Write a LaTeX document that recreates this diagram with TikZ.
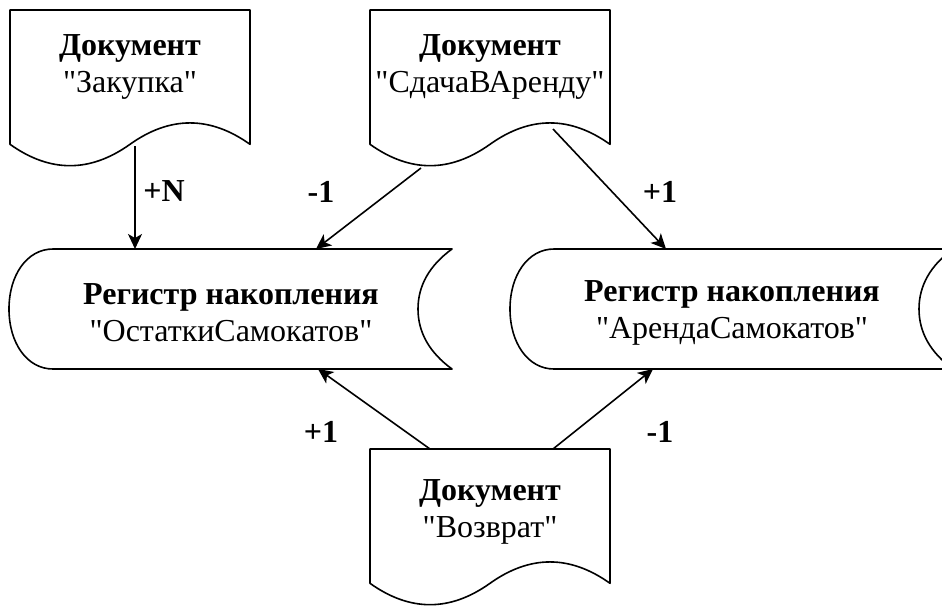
\documentclass[tikz,border=0pt]{standalone}
\usepackage{fontspec}
\setmainfont{Liberation Serif}[Ligatures=TeXOff]
\usetikzlibrary{arrows.meta,calc}
\tikzset{
  shapeline/.style={draw=black, line width=1.6pt, fill=white, line join=round},
  txt/.style={align=center, font=\fontsize{32}{37}\selectfont, inner sep=0pt},
  lbl/.style={font=\fontsize{32}{37}\selectfont\bfseries, inner sep=0pt},
  arr/.style={draw=black, line width=1.6pt, -{Stealth[length=15pt,width=14pt,inset=4pt]}},
}
\newcommand\docoutline[2]{%
  \path[shapeline] (#1,#2) -- ++(240,0) -- ++(0,134.3)
    .. controls ++(-40,-28.5) and ($(#1,#2)+(160,105.8)$) .. ($(#1,#2)+(120,134.3)$)
    .. controls ++(-40,28.5) and ($(#1,#2)+(40,162.8)$) .. ($(#1,#2)+(0,134.3)$) -- cycle;}
\newcommand\regoutline[2]{%
  \path[shapeline] (#1+44,#2) -- ++(399,0)
    .. controls ++(-22,16) and ($(#1,#2)+(409,36)$) .. ($(#1,#2)+(409,60)$)
    .. controls ($(#1,#2)+(409,84)$) and ($(#1,#2)+(421,104)$) .. ($(#1,#2)+(443,120)$)
    -- ($(#1,#2)+(44,120)$)
    .. controls ($(#1,#2)+(18,120)$) and ($(#1,#2)+(0,94)$) .. ($(#1,#2)+(0,60)$)
    .. controls ($(#1,#2)+(0,26)$) and ($(#1,#2)+(18,0)$) .. cycle;}
\begin{document}
\begin{tikzpicture}[x=1pt,y=-1pt]
\useasboundingbox (0,0) rectangle (942,606);
% shapes
\docoutline{10}{10}
\docoutline{370}{10}
\docoutline{370}{449}
\regoutline{9}{249}
\regoutline{510}{249}
% texts
\node[txt] (d1) at (130,67) {\textbf{Документ}\\"Закупка"};
\node[txt] (d2) at (490,67) {\textbf{Документ}\\"СдачаВАренду"};
\node[txt] (d3) at (490,512) {\textbf{Документ}\\"Возврат"};
\node[txt] (r1) at (231,313) {\textbf{Регистр накопления}\\"ОстаткиСамокатов"};
\node[txt] (r2) at (732,313) {\textbf{Регистр накопления}\\"АрендаСамокатов"};
% connector ends
\coordinate (d1b) at (135,146);
\coordinate (r1t) at (135,249);
\coordinate (d2bl) at (421,168);
\coordinate (r1tr) at (316,249);
\coordinate (d2br) at (553,129);
\coordinate (r2t) at (666,249);
\coordinate (d3tl) at (430,449);
\coordinate (r1b) at (318,369);
\coordinate (d3tr) at (553,449);
\coordinate (r2b) at (653,369);
\draw[arr] (d1b) -- (r1t);
\draw[arr] (d2bl) -- (r1tr);
\draw[arr] (d2br) -- (r2t);
\draw[arr] (d3tl) -- (r1b);
\draw[arr] (d3tr) -- (r2b);
% labels
\node[lbl] (lN) at (164,191) {+N};
\node[lbl] (lm1) at (321,192) {-1};
\node[lbl] (lp1) at (660,192) {+1};
\node[lbl] (lp2) at (321,432) {+1};
\node[lbl] (lm2) at (660,432) {-1};
\end{tikzpicture}
\end{document}
